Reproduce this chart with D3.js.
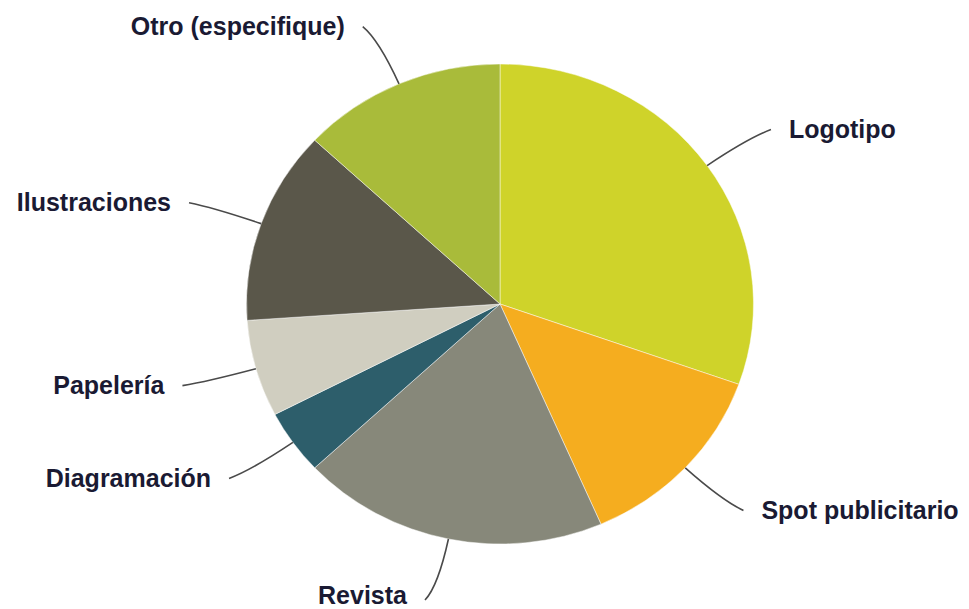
<!DOCTYPE html>
<html>
<head>
<meta charset="utf-8">
<script src="https://cdn.jsdelivr.net/npm/d3@7"></script>
<style>
  html, body { margin: 0; padding: 0; background: #ffffff; }
  svg { display: block; }
</style>
</head>
<body>
<script>
// Design pieces requested (counts of answers)
const categories = ["Logotipo", "Spot publicitario", "Revista", "Diagramación", "Papelería", "Ilustraciones", "Otro (especifique)"];
const values = [14, 6, 9, 2, 3, 6, 6];
const colors = ["#cfd32a", "#f5ad1f", "#87887a", "#2d5e6b", "#d0cec0", "#5a574a", "#a9bb3a"];

const width = 969, height = 609;
const cx = 500, cy = 304;
const rx = 253.5, ry = 240;   // the pie is drawn slightly flattened

const data = categories.map((c, i) => ({ name: c, value: values[i], color: colors[i] }));

const svg = d3.select("body").append("svg")
  .attr("width", width)
  .attr("height", height);

const pie = d3.pie().value(d => d.value).sort(null);
const arcs = pie(data);

const arc = d3.arc().innerRadius(0).outerRadius(rx);

svg.append("g")
  .attr("transform", `translate(${cx},${cy}) scale(1,${ry / rx})`)
  .selectAll("path")
  .data(arcs)
  .join("path")
  .attr("d", arc)
  .attr("fill", d => d.data.color)
  .attr("stroke", "#ffffff")
  .attr("stroke-width", 0.8)
  .attr("stroke-opacity", 0.6);

// point on the (flattened) circle at a given angle and relative radius
function at(angle, k) {
  return [cx + Math.sin(angle) * rx * k, cy - Math.cos(angle) * ry * k];
}

const labels = svg.append("g");
const fontSize = 25;

arcs.forEach(a => {
  const mid = (a.startAngle + a.endAngle) / 2;
  const side = Math.sin(mid) >= 0 ? 1 : -1;
  const p0 = at(mid, 1.0);
  const p1 = at(mid, 1.2);
  const pe = at(mid, 1.26);
  const p2 = [pe[0] + side * 10, pe[1]];

  labels.append("path")
    .attr("d", `M${p0[0]},${p0[1]} Q${p1[0]},${p1[1]} ${p2[0]},${p2[1]}`)
    .attr("fill", "none")
    .attr("stroke", "#4a4a4a")
    .attr("stroke-width", 1.6);

  // keep labels inside the drawing area
  const ty = Math.min(p2[1], height - fontSize * 0.55);

  labels.append("text")
    .attr("x", p2[0] + side * 18)
    .attr("y", ty)
    .attr("dy", "0.35em")
    .attr("text-anchor", side > 0 ? "start" : "end")
    .attr("font-family", "'Liberation Sans', Arial, sans-serif")
    .attr("font-weight", "bold")
    .attr("font-size", fontSize)
    .attr("fill", "#1a1a33")
    .text(a.data.name);
});
</script>
</body>
</html>
